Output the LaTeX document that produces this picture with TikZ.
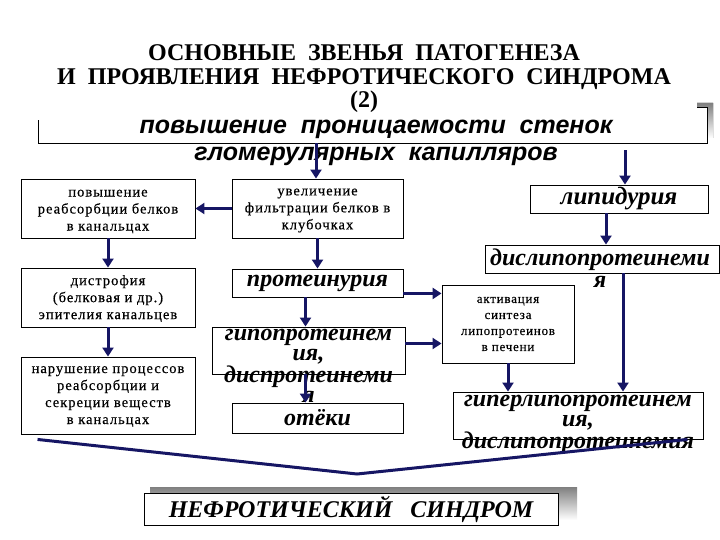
\documentclass[tikz,border=0pt]{standalone}
\usepackage{fontspec}
\setmainfont{Liberation Serif}
\newfontfamily\hsans{Liberation Sans}
\usetikzlibrary{calc,arrows.meta}
\definecolor{navy}{RGB}{22,22,100}
\definecolor{shade}{RGB}{128,128,128}
\tikzset{
  box/.style={draw=black, line width=0.9pt, fill=white, inner sep=0pt},
  small/.style={font=\fontsize{14.5}{17}\selectfont\addfontfeatures{LetterSpace=7,FakeBold=0.4}, align=center},
  big/.style={font=\fontsize{24}{20}\selectfont\bfseries\itshape, align=center},
  arr/.style={draw=navy, line width=3pt, -{Triangle[length=9pt,width=11pt]}},
  conn/.style={draw=navy, line width=3pt},
}
\begin{document}
\begin{tikzpicture}[x=1pt,y=-1pt]
\useasboundingbox (0,0) rectangle (720,540);
% title
\node[font=\fontsize{24}{23.5}\selectfont\bfseries, align=center] (title) at (364,79)
  {ОСНОВНЫЕ\ \ ЗВЕНЬЯ\ \ ПАТОГЕНЕЗА\\И\ \ ПРОЯВЛЕНИЯ\ \ НЕФРОТИЧЕСКОГО\ \ СИНДРОМА\\(2)};
% header box
\fill[shade] (697,103) -- (713,103) -- (713,138) -- (707,138) -- (707,108) -- (697,108) -- cycle;
\node[minimum width=668pt, minimum height=35pt, inner sep=0pt] (hdr) at (373,125.5) {};
\draw[black, line width=0.9pt] ([xshift=-10pt]hdr.north east) -- (hdr.north east) -- (hdr.south east) -- (hdr.south west) -- ([yshift=-12pt]hdr.north west);
\node[font=\fontsize{25}{27}\selectfont\hsans\bfseries\itshape, align=center] (hdrtext) at (376,143)
  {повышение\ \ проницаемости\ \ стенок\\гломерулярных\ \ капилляров};
% left column
\node[box, minimum width=174pt, minimum height=59pt] (b1) at (108,208.5) {};
\node[small] at ([yshift=-3pt]b1.center) {повышение\\реабсорбции белков\\в канальцах};
\node[box, minimum width=174pt, minimum height=59pt] (b2) at (108,297.5) {};
\node[small] at ([yshift=-1pt]b2.center) {дистрофия\\(белковая и др.)\\эпителия канальцев};
\node[box, minimum width=174pt, minimum height=77pt] (b3) at (108,395.5) {};
\node[small] at ([yshift=-1pt]b3.center) {нарушение процессов\\реабсорбции и\\секреции веществ\\в канальцах};
% middle column
\node[box, minimum width=171pt, minimum height=59pt] (m1) at (317.5,208.5) {};
\node[small] at ([yshift=-2pt]m1.center) {увеличение\\фильтрации белков в\\клубочках};
\node[box, minimum width=171pt, minimum height=28pt] (m2) at (317.5,283) {};
\node[big] at (m2) {протеинурия};
\node[box, minimum width=193pt, minimum height=47pt] (m3) at (308.5,350.5) {};
\node[big, anchor=north] at (308.5,326) {гипопротеинем\\ия,\\диспротеинеми\\я};
\node[box, minimum width=171pt, minimum height=30pt] (m4) at (317.5,418) {};
\node[big] at (m4) {отёки};
% right column
\node[box, minimum width=178pt, minimum height=28pt] (r1) at (619,199) {};
\node[big, font=\fontsize{25}{20}\selectfont\bfseries\itshape] at (r1) {липидурия};
\node[box, minimum width=234pt, minimum height=28pt] (r2) at (602,259) {};
\node[big, anchor=north] at (600,245) {дислипопротеинеми\\[2pt]я};
\node[box, minimum width=132pt, minimum height=78pt] (r3) at (508,324) {};
\node[small, font=\fontsize{13}{16}\selectfont\addfontfeatures{LetterSpace=6,FakeBold=0.4}] at (r3) {активация\\синтеза\\липопротеинов\\в печени};
\node[box, minimum width=250pt, minimum height=47pt] (r4) at (578,415.5) {};
\node[big, anchor=north] at (578,392) {гиперлипопротеинем\\ия,\\дислипопротеинемия};
% final box
\fill[shade] (150,487) rectangle (577,520);
\node[box, minimum width=414pt, minimum height=32pt, font=\fontsize{24}{24}\selectfont\bfseries\itshape] (fin) at (351,509) {НЕФРОТИЧЕСКИЙ\ \ \ СИНДРОМ};
% arrows
\draw[arr] ([xshift=-57pt]hdr.south) -- ([xshift=-57pt]hdr.south |- m1.north);
\draw[arr] ([shift={(252pt,-7pt)}]hdr.south) -- ([xshift=252pt]hdr.south |- r1.north);
\draw[arr] (m1.west) -- (b1.east);
\draw[arr] (b1.south) -- (b2.north);
\draw[arr] (b2.south) -- (b3.north);
\draw[arr] (m1.south) -- (m2.north);
\draw[arr] ([xshift=-12pt]m2.south) -- ([xshift=-12pt]m2.south |- m3.north);
\draw[arr] ([xshift=-3pt]m3.south) -- ([xshift=-3pt]m3.south |- m4.north);
\draw[arr] ([yshift=4pt]m2.south east) -- ([yshift=4pt]m2.south east -| r3.west);
\draw[arr] ([yshift=7pt]m3.east) -- ([yshift=7pt]m3.east -| r3.west);
\draw[arr] ([xshift=-13pt]r1.south) -- ([xshift=-13pt]r1.south |- r2.north);
\draw[arr] ([xshift=21pt]r2.south) -- ([xshift=21pt]r2.south |- r4.north);
\draw[arr] (r3.south) -- (r3.south |- r4.north);
\coordinate (v) at (357,474);
\draw[conn] ([shift={(17pt,-5pt)}]b3.south west) -- (v) -- ([xshift=-16pt]r4.south east);
\end{tikzpicture}
\end{document}
